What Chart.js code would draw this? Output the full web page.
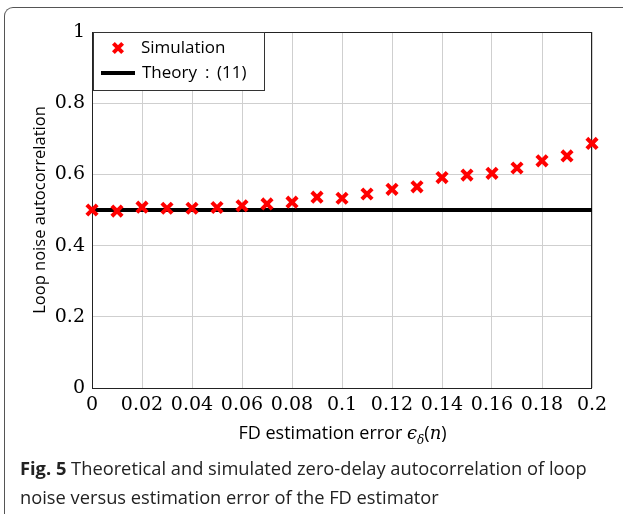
<!DOCTYPE html>
<html>
<head>
<meta charset="utf-8">
<script src="https://cdn.jsdelivr.net/npm/chart.js@4/dist/chart.umd.min.js"></script>
<style>
  html, body { margin: 0; padding: 0; background: #fff; }
  body { width: 623px; height: 514px; position: relative; overflow: hidden; }
  #frame { position: absolute; left: 4px; top: 7px; width: 700px; height: 600px;
           border-left: 1.5px solid #555; border-top: 1.5px solid #555; border-top-left-radius: 9px; }
  #wrap { position: absolute; left: 0; top: 0; width: 623px; height: 450px; }
  #xtitle { position: absolute; left: 0; width: 623px; top: 420px; text-align: center;
            font-family: "Open Sans", sans-serif; font-size: 18px; color: #000; padding-left: 62px; box-sizing: border-box; }
  #xtitle .m { font-family: "DejaVu Serif", serif; font-style: italic; }
  #xtitle sub { font-size: 12px; }
  #caption { position: absolute; left: 20px; top: 453px; width: 600px;
             font-family: "Open Sans", sans-serif; font-size: 18.3px; line-height: 29px; color: #222; }
  #caption b { font-weight: 700; }
</style>
</head>
<body>
<div id="frame"></div>
<div id="wrap"><canvas id="chart" width="623" height="450"></canvas></div>
<div id="xtitle">FD estimation error <span class="m">ϵ<sub>δ</sub></span>(<span class="m">n</span>)</div>
<div id="caption"><b>Fig. 5</b> Theoretical and simulated zero-delay autocorrelation of loop noise versus estimation error of the FD estimator</div>
<script>
const xValues = [0, 0.01, 0.02, 0.03, 0.04, 0.05, 0.06, 0.07, 0.08, 0.09, 0.1,
                 0.11, 0.12, 0.13, 0.14, 0.15, 0.16, 0.17, 0.18, 0.19, 0.2];
const simValues = [0.500, 0.497, 0.508, 0.505, 0.505, 0.507, 0.512, 0.517, 0.522, 0.536, 0.533,
                   0.545, 0.558, 0.565, 0.591, 0.598, 0.603, 0.618, 0.638, 0.652, 0.687];
const theoryX = [0, 0.2];
const theoryY = [0.5, 0.5];
const xTicks = [0, 0.02, 0.04, 0.06, 0.08, 0.1, 0.12, 0.14, 0.16, 0.18, 0.2];
const xTickLabels = ["0", "0.02", "0.04", "0.06", "0.08", "0.1", "0.12", "0.14", "0.16", "0.18", "0.2"];
const yTicks = [0, 0.2, 0.4, 0.6, 0.8, 1];
const yTickLabels = ["0", "0.2", "0.4", "0.6", "0.8", "1"];
const legendLabels = ["Simulation", "Theory : (11)"];

const tickFont = { family: "DejaVu Serif", size: 19 };

const framePlugin = {
    id: "frame",
    beforeDatasetsDraw(chart) {
        const a = chart.chartArea;
        const ctx = chart.ctx;
        ctx.save();
        ctx.strokeStyle = "#222";
        ctx.lineWidth = 1;
        ctx.strokeRect(a.left + 0.5, a.top + 0.5, a.right - a.left - 1, a.bottom - a.top);
        ctx.restore();
    },
    afterDraw(chart) {
        const a = chart.chartArea;
        const ctx = chart.ctx;
        const x0 = a.left + 1, y0 = a.top;
        ctx.save();
        ctx.fillStyle = "#fff";
        ctx.fillRect(x0, y0, 171, 58);
        ctx.strokeStyle = "#333";
        ctx.lineWidth = 1;
        ctx.strokeRect(x0 + 0.5, y0 + 0.5, 171, 58);
        // cross marker
        const cx = x0 + 25, cy = y0 + 16, r = 4.6;
        ctx.strokeStyle = "#ff0000";
        ctx.lineWidth = 4;
        ctx.beginPath();
        ctx.moveTo(cx - r, cy - r); ctx.lineTo(cx + r, cy + r);
        ctx.moveTo(cx + r, cy - r); ctx.lineTo(cx - r, cy + r);
        ctx.stroke();
        // line sample
        ctx.strokeStyle = "#000";
        ctx.beginPath();
        ctx.moveTo(x0 + 8, y0 + 41); ctx.lineTo(x0 + 42, y0 + 41);
        ctx.stroke();
        ctx.fillStyle = "#000";
        ctx.font = "17px 'Open Sans'";
        ctx.textBaseline = "middle";
        ctx.fillText(legendLabels[0], x0 + 48, cy);
        // math-mode spacing around the colon
        const parts = legendLabels[1].split(" ");
        ctx.fillText(parts[0], x0 + 49, y0 + 41);
        ctx.fillText(parts[1], x0 + 112, y0 + 41);
        ctx.fillText(parts[2], x0 + 124, y0 + 41);
        ctx.restore();
    }
};

new Chart(document.getElementById("chart"), {
    type: "scatter",
    data: {
        datasets: [
            {
                label: legendLabels[0],
                data: xValues.map((x, i) => ({ x: x, y: simValues[i] })),
                pointStyle: "crossRot",
                pointRadius: 7.3,
                pointBorderWidth: 4,
                borderColor: "#ff0000",
                backgroundColor: "#ff0000",
                showLine: false,
                clip: false,
            },
            {
                label: legendLabels[1],
                data: theoryX.map((x, i) => ({ x: x, y: theoryY[i] })),
                showLine: true,
                borderColor: "#000",
                borderWidth: 4,
                pointRadius: 0,
                clip: false,
            },
        ],
    },
    options: {
        responsive: false,
        animation: false,
        layout: { padding: { left: 0, top: 32, right: 31, bottom: 0 } },
        plugins: { legend: { display: false }, tooltip: { enabled: false } },
        scales: {
            x: {
                type: "linear",
                min: 0,
                max: 0.2,
                afterBuildTicks: (axis) => { axis.ticks = xTicks.map((v) => ({ value: v })); },
                afterFit: (axis) => { axis.height = 62; },
                border: { display: false },
                grid: { color: "#cfcfcf", drawTicks: false },
                ticks: {
                    padding: 6,
                    color: "#000",
                    font: tickFont,
                    maxRotation: 0,
                    autoSkip: false,
                    callback: (value, index) => xTickLabels[index],
                },
            },
            y: {
                min: 0,
                max: 1,
                afterBuildTicks: (axis) => { axis.ticks = yTicks.map((v) => ({ value: v })); },
                afterFit: (axis) => { axis.width = 92; },
                border: { display: false },
                grid: { color: "#cfcfcf", drawTicks: false },
                ticks: {
                    padding: 7,
                    color: "#000",
                    font: tickFont,
                    callback: (value, index) => yTickLabels[index],
                },
                title: {
                    display: true,
                    text: "Loop noise autocorrelation",
                    color: "#000",
                    font: { family: "Open Sans", size: 16.5 },
                    padding: { top: 30, bottom: 0 },
                },
            },
        },
    },
    plugins: [framePlugin],
});
</script>
</body>
</html>
